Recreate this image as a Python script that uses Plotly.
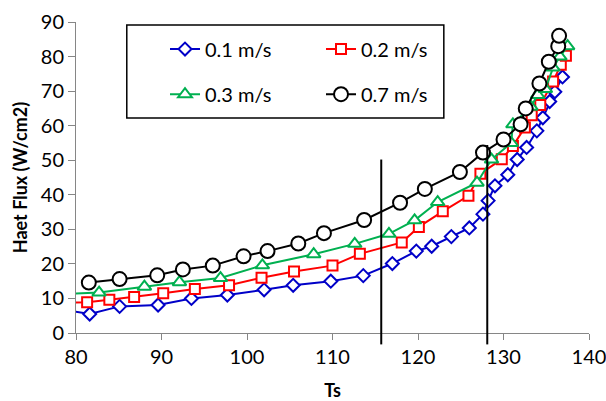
import plotly.graph_objects as go

# ---- data ----
ts_01 = [79.0, 81.6, 85.1, 89.6, 93.5, 97.7, 102.0, 105.4, 109.8, 113.6, 117.0, 119.8, 121.6,
         123.9, 126.0, 127.6, 128.2, 129.0, 130.5, 131.6, 132.7, 133.9, 134.6, 135.4, 136.0, 136.9]
q_01 = [6.6, 5.5, 7.7, 8.1, 10.0, 11.0, 12.5, 13.8, 15.0, 16.6, 20.1, 23.7, 25.1,
        27.9, 30.4, 34.4, 38.3, 42.6, 45.8, 50.2, 53.7, 58.5, 62.3, 67.0, 69.8, 74.1]

ts_02 = [79.0, 81.3, 83.9, 86.8, 90.2, 93.9, 97.9, 101.7, 105.5, 110.0, 113.2, 118.1, 120.1,
         122.9, 125.9, 127.3, 129.8, 131.1, 132.5, 133.3, 134.3, 135.8, 136.7, 137.3]
q_02 = [8.8, 8.9, 9.6, 10.4, 11.5, 12.7, 13.8, 16.0, 17.8, 19.5, 22.9, 26.2, 30.7,
        35.2, 39.7, 46.1, 50.3, 54.1, 59.5, 63.0, 66.0, 72.8, 77.6, 80.2]

ts_03 = [78.5, 82.7, 88.0, 92.1, 96.9, 101.8, 107.8, 112.6, 116.6, 119.6, 122.3, 126.9, 128.6,
         130.9, 131.1, 133.2, 134.0, 134.9, 135.8, 136.6, 137.5]
q_03 = [11.3, 11.7, 13.4, 14.7, 15.9, 19.6, 22.8, 25.8, 28.7, 32.6, 37.9, 43.5, 50.2,
        55.0, 60.4, 65.5, 68.9, 70.6, 76.8, 80.0, 83.0]

ts_07 = [81.5, 85.1, 89.5, 92.5, 96.0, 99.6, 102.4, 106.0, 109.0, 113.7, 117.9, 120.8,
         124.9, 127.6, 130.0, 132.0, 132.6, 134.2, 135.3, 136.4, 136.5]
q_07 = [14.6, 15.6, 16.7, 18.4, 19.5, 22.2, 23.7, 25.9, 28.9, 32.7, 37.7, 41.7,
        46.6, 52.2, 56.0, 60.4, 65.0, 72.2, 78.5, 83.0, 86.0]

series_names = ["0.1 m/s", "0.2 m/s", "0.3 m/s", "0.7 m/s"]
vlines_ts = [115.7, 128.1]
vlines_top = [50.2, 54.4]
vline_bottom = -3.3

x_ticks = [80, 90, 100, 110, 120, 130, 140]
y_ticks = [0, 10, 20, 30, 40, 50, 60, 70, 80, 90]

FONT = "Lato"
fig = go.Figure()

specs = [
    (ts_01, q_01, series_names[0], "#0000C8", "diamond", 10, "legend"),
    (ts_02, q_02, series_names[1], "#FF0000", "square", 10, "legend"),
    (ts_03, q_03, series_names[2], "#00B050", "triangle-up", 12, "legend2"),
    (ts_07, q_07, series_names[3], "#000000", "circle", 14, "legend2"),
]
for xs, ys, name, col, sym, sz, lg in specs:
    fig.add_trace(go.Scatter(
        x=xs, y=ys, name=name, mode="lines+markers",
        line=dict(color=col, width=2),
        marker=dict(symbol=sym, size=sz, color="white", line=dict(color=col, width=2)),
        legend=lg, cliponaxis=True,
    ))

y_min, y_max = 0, 90
for xv, top in zip(vlines_ts, vlines_top):
    fig.add_shape(type="line", xref="x", yref="paper",
                  x0=xv, x1=xv,
                  y0=(vline_bottom - y_min) / (y_max - y_min),
                  y1=(top - y_min) / (y_max - y_min),
                  line=dict(color="black", width=2))

# legend frame
fig.add_shape(type="rect", xref="paper", yref="paper",
              x0=0.099, x1=0.717, y0=0.691, y1=0.990,
              line=dict(color="black", width=1.5), fillcolor="rgba(0,0,0,0)")

leg_common = dict(orientation="h", bgcolor="rgba(0,0,0,0)", borderwidth=0,
                  font=dict(family=FONT, size=20, color="black"),
                  entrywidth=111, entrywidthmode="pixels",
                  xanchor="left", yanchor="middle", itemclick=False)
fig.update_layout(
    width=606, height=401,
    margin=dict(l=76, r=17, t=22, b=68),
    paper_bgcolor="white", plot_bgcolor="white",
    legend=dict(x=0.1735, y=0.913, **leg_common),
    legend2=dict(x=0.1735, y=0.768, **leg_common),
    font=dict(family=FONT, color="black"),
)
fig.update_xaxes(
    range=[80, 140], tickvals=x_ticks, ticktext=[str(v) for v in x_ticks],
    showgrid=False, zeroline=False, showline=True, linecolor="#868686", linewidth=1,
    ticks="outside", ticklen=6, tickcolor="#868686", automargin=False,
    ticklabeloverflow="allow",
    tickfont=dict(family=FONT, size=20, color="black"),
    title=dict(text="<b>Ts</b>", font=dict(family=FONT, size=18, color="black"), standoff=17),
)
fig.update_yaxes(
    range=[0, 90], tickvals=y_ticks, ticktext=[str(v) for v in y_ticks],
    showgrid=False, zeroline=False, showline=True, linecolor="#868686", linewidth=1,
    ticks="outside", ticklen=7, tickcolor="#868686", automargin=False,
    ticklabeloverflow="allow",
    tickfont=dict(family=FONT, size=20, color="black"),
    title=dict(text="<b>Haet Flux (W/cm2)</b>", font=dict(family=FONT, size=18, color="black"), standoff=8),
)
fig.write_html("out.html", config={"displayModeBar": False},
               post_script="document.body.style.margin='0';document.body.style.padding='0';")
